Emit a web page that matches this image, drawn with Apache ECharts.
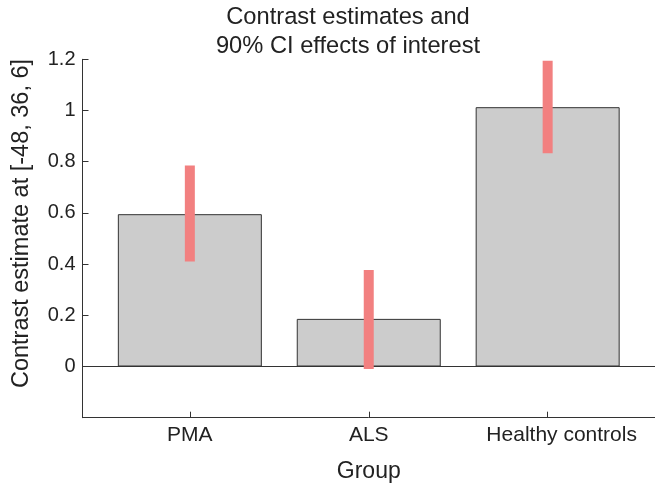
<!DOCTYPE html>
<html>
<head>
<meta charset="utf-8">
<script src="https://cdn.jsdelivr.net/npm/echarts@6/dist/echarts.min.js"></script>
<style>html,body{margin:0;padding:0;background:#fff}#c{width:655px;height:489px}</style>
</head>
<body>
<div id="c"></div>
<script>
var categories = ['PMA', 'ALS', 'Healthy controls'];
var positions = [1, 2, 3];
var estimates = [0.595, 0.186, 1.013];
var ciLow = [0.41, -0.01, 0.833];
var ciHigh = [0.785, 0.377, 1.194];
var yTicks = [0, 0.2, 0.4, 0.6, 0.8, 1, 1.2];

var barData = positions.map(function (p, i) { return [p, estimates[i]]; });
var ciData = positions.map(function (p, i) { return [p, ciLow[i], ciHigh[i]]; });

var font = '"Liberation Sans", Arial, sans-serif';
var chart = echarts.init(document.getElementById('c'), null, { renderer: 'canvas' });
chart.setOption({
  animation: false,
  backgroundColor: '#ffffff',
  title: {
    text: 'Contrast estimates and\n90% CI effects of interest',
    left: 348,
    textAlign: 'center',
    top: 1,
    padding: [2, 0, 0, 0],
    textStyle: { fontFamily: font, fontSize: 23.7, fontWeight: 'normal', color: '#222', lineHeight: 29 }
  },
  grid: { left: 82.5, right: -5.8, top: 59.3, bottom: 71.3, containLabel: false },
  xAxis: {
    type: 'value',
    min: 0.4,
    max: 3.6,
    name: 'Group',
    nameLocation: 'middle',
    nameGap: 42,
    nameTextStyle: { fontFamily: font, fontSize: 23, color: '#222' },
    axisLine: { show: true, onZero: false, lineStyle: { color: '#333', width: 1 } },
    axisTick: { show: true, inside: true, length: 6, lineStyle: { color: '#333' }, customValues: positions },
    axisLabel: {
      fontFamily: font, fontSize: 21, color: '#222', margin: 7,
      customValues: positions,
      formatter: function (v) {
        var i = positions.indexOf(Math.round(v));
        if (i < 0) return '';
        return i === 2 ? '{hc|' + categories[i] + '}' : categories[i];
      },
      rich: { hc: { fontFamily: font, fontSize: 21, color: '#222', padding: [0, 0, 0, 28] } }
    },
    splitLine: { show: false }
  },
  yAxis: {
    type: 'value',
    min: -0.2,
    max: 1.2,
    interval: 0.2,
    name: 'Contrast estimate at [-48, 36, 6]',
    nameLocation: 'middle',
    nameGap: 49,
    nameTextStyle: { fontFamily: font, fontSize: 23.5, color: '#222', padding: [0, 0, 0, 30] },
    axisLine: { show: true, onZero: false, lineStyle: { color: '#333', width: 1 } },
    axisTick: { show: true, inside: true, length: 6, lineStyle: { color: '#333' }, customValues: yTicks },
    axisLabel: {
      fontFamily: font, fontSize: 20, color: '#222', margin: 7,
      customValues: yTicks,
      formatter: function (v) { return v < -0.01 ? '' : String(Math.round(v * 10) / 10); }
    },
    splitLine: { show: false }
  },
  series: [
    {
      type: 'bar',
      data: barData,
      barWidth: 144,
      itemStyle: { color: '#cccccc', borderColor: '#333333', borderWidth: 1 },
      z: 2,
      markLine: {
        silent: true,
        symbol: ['none', 'none'],
        label: { show: false },
        lineStyle: { color: '#333333', type: 'solid', width: 1 },
        data: [{ yAxis: 0 }]
      }
    },
    {
      type: 'custom',
      data: ciData,
      z: 5,
      renderItem: function (params, api) {
        var x = api.value(0);
        var top = api.coord([x, api.value(2)]);
        var bot = api.coord([x, api.value(1)]);
        return {
          type: 'rect',
          shape: { x: top[0] - 5, y: top[1], width: 10, height: bot[1] - top[1] },
          style: { fill: '#f28080' }
        };
      }
    }
  ]
});
</script>
</body>
</html>
